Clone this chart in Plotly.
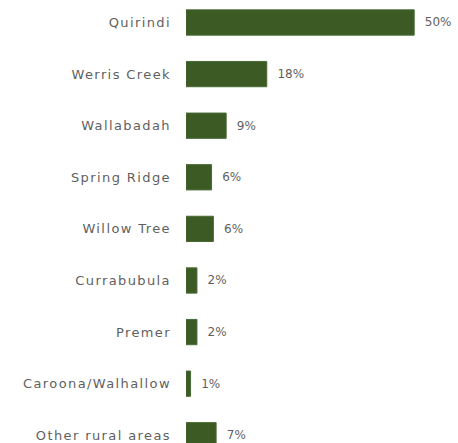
import plotly.graph_objects as go

categories = ["Quirindi", "Werris Creek", "Wallabadah", "Spring Ridge", "Willow Tree",
              "Currabubula", "Premer", "Caroona/Walhallow", "Other rural areas"]
values = [50.0, 17.7, 8.8, 5.6, 6.0, 2.4, 2.4, 1.0, 6.6]
labels = ["50%", "18%", "9%", "6%", "6%", "2%", "2%", "1%", "7%"]

FONT = "DejaVu Sans"
GRAY = "#5f5f5f"

fig = go.Figure(go.Bar(
    x=values, y=categories, orientation="h",
    marker=dict(color="#3B5A24", line=dict(color="#4a6a34", width=1)),
    text=["\u00a0\u00a0" + t for t in labels],
    textposition="outside", cliponaxis=False,
    textfont=dict(family=FONT, size=12, color=GRAY),
    width=0.49,
))
fig.update_layout(
    width=458, height=443,
    margin=dict(l=186, r=0, t=0, b=0),
    paper_bgcolor="white", plot_bgcolor="white",
    showlegend=False,
    font=dict(family=FONT, size=13, color=GRAY),
    xaxis=dict(range=[0, 59.6], visible=False),
    yaxis=dict(range=[8.15, -0.436], showgrid=False, showline=False, zeroline=False,
               ticks="", ticklabelstandoff=14,
               tickfont=dict(family=FONT, size=13, color=GRAY)),
)
css = ("var s=document.createElement('style');"
       "s.textContent='.ytick text{letter-spacing:1.4px;} .textpoint text{letter-spacing:0.8px;}';"
       "document.head.appendChild(s);")
fig.write_html("out.html", post_script=css)
